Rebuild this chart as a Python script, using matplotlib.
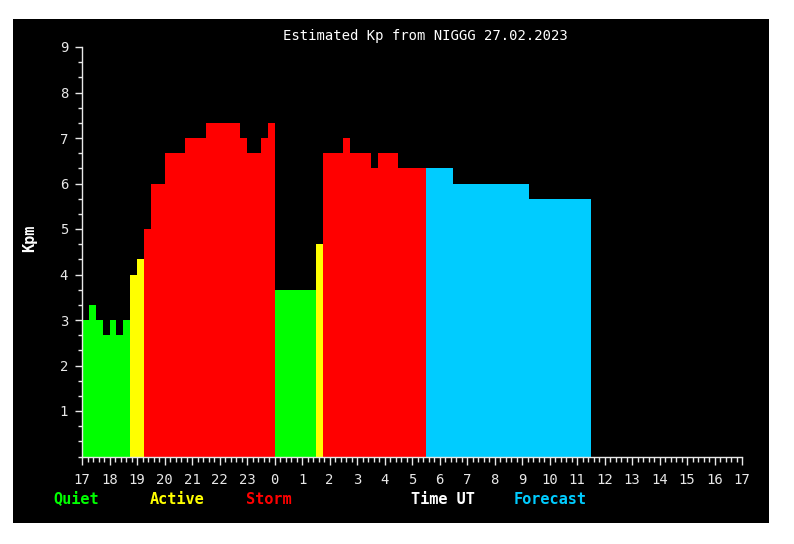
#!/usr/bin/env python3
"""
Estimated Kp from NIGGG 27.02.2023 - step chart, 17 UT to 17 UT next day.
Observed values (15 min steps) coloured by activity, forecast in cyan.
"""
import matplotlib
matplotlib.use("Agg")
import matplotlib.pyplot as plt
from matplotlib.patches import Rectangle
from matplotlib.ticker import MultipleLocator

W, H = 794, 544
plt.rcParams.update({"font.family": "DejaVu Sans Mono"})

# --- data: segment start times (UT), Kp values ---
obs_start = ["17:00", "17:15", "17:30", "17:45", "18:00", "18:15", "18:30", "18:45",
             "19:00", "19:15", "19:30", "20:00", "20:45", "21:30", "22:45", "23:00",
             "23:30", "23:45", "00:00", "01:30", "01:45", "02:30", "02:45", "03:30",
             "03:45", "04:30"]
obs_kp = [3.0, 3.33, 3.0, 2.67, 3.0, 2.67, 3.0, 4.0,
          4.33, 5.0, 6.0, 6.67, 7.0, 7.33, 7.0, 6.67,
          7.0, 7.33, 3.67, 4.67, 6.67, 7.0, 6.67, 6.33,
          6.67, 6.33]
obs_end = "05:30"

fc_start = ["05:30", "06:30", "09:15"]
fc_kp = [6.33, 6.0, 5.67]
fc_end = "11:30"

hour_labels = [str((17 + i) % 24) for i in range(25)]

C_QUIET, C_ACTIVE, C_STORM, C_FC = "#00ff00", "#ffff00", "#ff0000", "#00ccff"


def to_h(t):
    hh, mm = map(int, t.split(":"))
    return (hh - 17) % 24 + mm / 60.0


def steps(starts, end):
    x = [to_h(s) for s in starts]
    edges = x + [to_h(end)]
    w = [edges[i + 1] - edges[i] for i in range(len(x))]
    return x, w


def kp_color(k):
    if k < 4 - 0.01:
        return C_QUIET
    if k < 5 - 0.01:
        return C_ACTIVE
    return C_STORM


fig = plt.figure(figsize=(W / 100, H / 100), dpi=100, facecolor="white")
# black panel (behind the axes)
fig.patches.append(Rectangle((13 / W, 1 - 523 / H), (769 - 13) / W, (523 - 19) / H,
                             transform=fig.transFigure, facecolor="black",
                             edgecolor="none", zorder=-10))

ax = fig.add_axes([82 / W, 1 - 456.5 / H, (742 - 82) / W, (456.5 - 47) / H])
ax.set_facecolor("black")
ax.set_zorder(1)

x, w = steps(obs_start, obs_end)
ax.bar(x, obs_kp, width=w, align="edge", color=[kp_color(k) for k in obs_kp], linewidth=0)
x, w = steps(fc_start, fc_end)
ax.bar(x, fc_kp, width=w, align="edge", color=C_FC, linewidth=0)

ax.set_xlim(0, 24)
ax.set_ylim(0, 9)
ax.set_xticks(range(25))
ax.set_xticklabels(hour_labels)
ax.xaxis.set_minor_locator(MultipleLocator(0.2))
ax.set_yticks(range(1, 10))
ax.yaxis.set_minor_locator(MultipleLocator(1 / 3))

for s in ["top", "right"]:
    ax.spines[s].set_visible(False)
for s in ["left", "bottom"]:
    ax.spines[s].set_color("#e8e8e8")
    ax.spines[s].set_linewidth(1)

ax.tick_params(axis="both", which="both", colors="#e8e8e8", direction="out", width=1)
ax.tick_params(axis="both", which="major", labelsize=10)
ax.tick_params(axis="x", which="major", length=6, pad=6)
ax.tick_params(axis="x", which="minor", length=3.5)
ax.tick_params(axis="y", which="major", length=5, pad=5)
ax.tick_params(axis="y", which="minor", length=3)

fig.text(425 / W, 1 - 36 / H, "Estimated Kp from NIGGG 27.02.2023",
         color="white", fontsize=10, ha="center", va="center")
fig.text(30 / W, 1 - 238 / H, "Kpm", color="white", fontsize=11, fontweight="bold",
         rotation=90, ha="center", va="center")

legend = [("Quiet", C_QUIET, 53), ("Active", C_ACTIVE, 150), ("Storm", C_STORM, 246),
          ("Time UT", "white", 411), ("Forecast", C_FC, 514)]
for txt, col, px in legend:
    fig.text(px / W, 1 - 499 / H, txt, color=col, fontsize=11, fontweight="bold",
             ha="left", va="center")

fig.savefig("out.png", dpi=100, facecolor="white")
